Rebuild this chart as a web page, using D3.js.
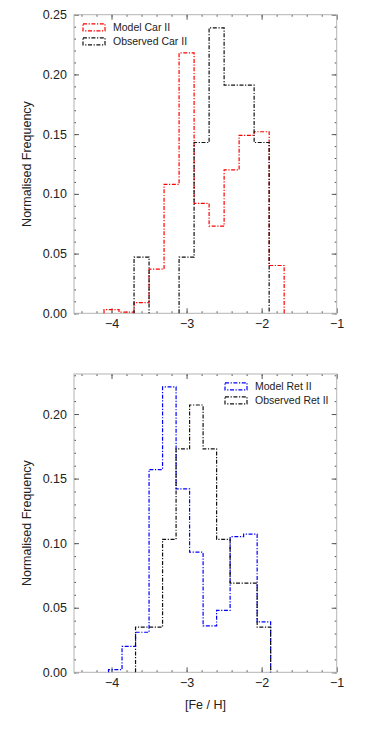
<!DOCTYPE html>
<html>
<head>
<meta charset="utf-8">
<script src="https://cdn.jsdelivr.net/npm/d3@7"></script>
<style>
  body { margin: 0; background: #fff; }
  text { font-family: "Liberation Sans", Arial, sans-serif; }
</style>
</head>
<body>
<div id="chart"></div>
<script>
var width = 374;
var height = 747;

// Car II histogram (bins of 0.2 dex, first edge -4.1)
var carEdgeStart = -4.1;
var carBinWidth = 0.2;
var carModel = [0.003, 0.001, 0.009, 0.037, 0.108, 0.218, 0.092, 0.073, 0.120, 0.149, 0.152, 0.040];
var carObserved = [0, 0, 0.047, 0, 0, 0.047, 0.143, 0.239, 0.191, 0.191, 0.143, 0];

// Ret II histogram (bins of 0.18 dex, first edge -4.04)
var retEdgeStart = -4.04;
var retBinWidth = 0.18;
var retModel = [0.002, 0.020, 0.031, 0.157, 0.221, 0.142, 0.093, 0.036, 0.048, 0.105, 0.107, 0.039];
var retObserved = [0, 0, 0.035, 0.035, 0.103, 0.173, 0.207, 0.173, 0.103, 0.069, 0.069, 0.035];

var xTicks = [-4, -3, -2, -1];
var carYTicks = [0, 0.05, 0.10, 0.15, 0.20, 0.25];
var retYTicks = [0, 0.05, 0.10, 0.15, 0.20];

var svg = d3.select("#chart").append("svg")
    .attr("width", width)
    .attr("height", height);

var left = 74, right = 336.7;
var dash = "4,1.6,1.2,1.6";

function panel(opts) {
    var g = svg.append("g");

    var x = d3.scaleLinear().domain([-4.5, -1]).range([left, right]);
    var y = d3.scaleLinear().domain([0, opts.yMax]).range([opts.bottom, opts.top]);

    // minor ticks
    var xMinor = d3.range(-4.4, -1.01, 0.2).map(function (d) { return +d.toFixed(1); });
    var yMinor = d3.range(0, opts.yMax, 0.01).map(function (d) { return +d.toFixed(2); });

    function tickAxis(axis, tr) {
        var a = g.append("g").attr("transform", tr).call(axis);
        a.select(".domain").remove();
        a.selectAll("line").attr("stroke", "#555");
        return a;
    }

    tickAxis(d3.axisBottom(x).tickValues(xMinor).tickSize(-2).tickFormat(""), "translate(0," + opts.bottom + ")");
    tickAxis(d3.axisTop(x).tickValues(xMinor).tickSize(-2).tickFormat(""), "translate(0," + opts.top + ")");
    tickAxis(d3.axisLeft(y).tickValues(yMinor).tickSize(-2).tickFormat(""), "translate(" + left + ",0)");
    tickAxis(d3.axisRight(y).tickValues(yMinor).tickSize(-2).tickFormat(""), "translate(" + right + ",0)");

    var xb = tickAxis(d3.axisBottom(x).tickValues(xTicks).tickSize(-5).tickPadding(6).tickFormat(d3.format("d")), "translate(0," + opts.bottom + ")");
    tickAxis(d3.axisTop(x).tickValues(xTicks).tickSize(-5).tickFormat(""), "translate(0," + opts.top + ")");
    var yl = tickAxis(d3.axisLeft(y).tickValues(opts.yTicks).tickSize(-5).tickPadding(7).tickFormat(d3.format(".2f")), "translate(" + left + ",0)");
    tickAxis(d3.axisRight(y).tickValues(opts.yTicks).tickSize(-5).tickFormat(""), "translate(" + right + ",0)");

    xb.selectAll("text").attr("font-size", "12.5px").attr("fill", "#222")
        .attr("font-family", "'Liberation Sans', Arial, sans-serif");
    yl.selectAll("text").attr("font-size", "12.5px").attr("fill", "#222")
        .attr("font-family", "'Liberation Sans', Arial, sans-serif");

    // frame
    g.append("rect")
        .attr("x", left).attr("y", opts.top)
        .attr("width", right - left).attr("height", opts.bottom - opts.top)
        .attr("fill", "none").attr("stroke", "#b4b4b4").attr("stroke-width", 1);

    // y title
    g.append("text")
        .attr("transform", "translate(27," + ((opts.top + opts.bottom) / 2) + ") rotate(-90)")
        .attr("text-anchor", "middle")
        .attr("dominant-baseline", "central")
        .attr("font-size", "12.5px")
        .attr("fill", "#222")
        .text("Normalised Frequency");

    // histogram step lines, split at runs of zeros
    function stepPath(values, start, w) {
        var runs = [], cur = null;
        values.forEach(function (v, i) {
            if (v > 0) {
                if (!cur) { cur = []; runs.push(cur); }
                cur.push([start + i * w, start + (i + 1) * w, v]);
            } else {
                cur = null;
            }
        });
        return runs.map(function (run) {
            var pts = [[x(run[0][0]), y(0)]];
            run.forEach(function (b) {
                pts.push([x(b[0]), y(b[2])]);
                pts.push([x(b[1]), y(b[2])]);
            });
            pts.push([x(run[run.length - 1][1]), y(0)]);
            return d3.line()(pts);
        }).join("");
    }

    opts.series.forEach(function (s) {
        g.append("path")
            .attr("d", stepPath(s.values, opts.edgeStart, opts.binWidth))
            .attr("fill", "none")
            .attr("stroke", s.color)
            .attr("stroke-width", 1.2)
            .attr("stroke-dasharray", dash);
    });

    // legend
    opts.series.forEach(function (s, i) {
        var ly = opts.legendY + i * 14;
        g.append("rect")
            .attr("x", opts.legendX).attr("y", ly - 3.5)
            .attr("width", 22).attr("height", 7)
            .attr("fill", "none")
            .attr("stroke", s.color)
            .attr("stroke-width", 1.2)
            .attr("stroke-dasharray", dash);
        g.append("text")
            .attr("x", opts.legendX + 30)
            .attr("y", ly)
            .attr("dominant-baseline", "central")
            .attr("font-size", "10.5px")
            .attr("fill", "#222")
            .text(s.label);
    });

    return { x: x, y: y };
}

panel({
    top: 14.7, bottom: 313.3, yMax: 0.25, yTicks: carYTicks,
    edgeStart: carEdgeStart, binWidth: carBinWidth,
    legendX: 83, legendY: 27.3,
    series: [
        { label: "Model Car II", values: carModel, color: "#ff0000" },
        { label: "Observed Car II", values: carObserved, color: "#111" }
    ]
});

panel({
    top: 374, bottom: 672.3, yMax: 0.231, yTicks: retYTicks,
    edgeStart: retEdgeStart, binWidth: retBinWidth,
    legendX: 225, legendY: 386.3,
    series: [
        { label: "Model Ret II", values: retModel, color: "#0000ff" },
        { label: "Observed Ret II", values: retObserved, color: "#111" }
    ]
});

svg.append("text")
    .attr("x", 205.5)
    .attr("y", 705)
    .attr("text-anchor", "middle")
    .attr("dominant-baseline", "central")
    .attr("font-size", "12.5px")
    .attr("fill", "#222")
    .text("[Fe / H]");
</script>
</body>
</html>
